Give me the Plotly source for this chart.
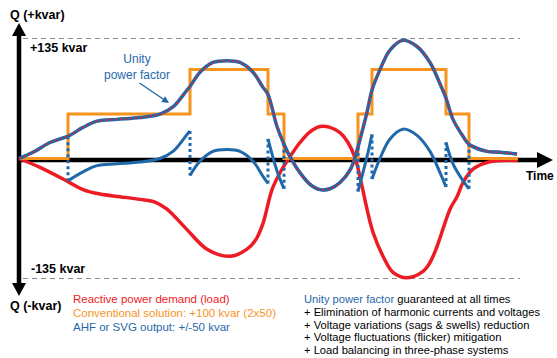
import plotly.graph_objects as go

# ---------------- data (time in arbitrary units, Q in kvar) ----------------
demand_x = [19, 40, 68, 83, 100, 120, 140, 155, 167, 187, 207, 230, 247, 256, 263, 272, 280, 290,
            300, 310, 320, 330, 340, 348, 355, 362, 367, 373, 383, 393, 407, 423, 430, 437, 450,
            457, 463, 473, 487, 503, 518]
demand_q = [0, -10, -26, -35, -40, -43, -46, -49, -57, -80, -102, -110, -102, -91, -73, -35, -16, 2,
            18, 30, 36, 35, 29, 18, 1, -31, -57, -83, -110, -128, -134, -127, -117, -99, -57,
            -43, -27, -12, -4.5, -2.2, -2.2]

comp_x = [19, 33, 50, 68, 83, 97, 117, 140, 160, 173, 187, 190, 200, 213, 227, 240, 253, 263, 268,
          277, 284, 290, 300, 310, 320, 330, 340, 350, 355, 358, 367, 372, 380, 390, 403, 417, 430,
          440, 446, 453, 463, 469, 487, 500, 517]
comp_q = [0, 7, 18, 25, 35, 42, 44, 46, 50, 58, 77, 81, 97, 108, 110, 108, 97, 80, 72,
          36, 16, 2, -16, -29, -35, -34, -27, -13, 1, 13, 52, 77, 100, 122, 133, 126, 108,
          84, 68, 44, 25, 16, 8, 7, 5]

step_x = [19, 68, 190, 268, 284, 358, 372, 446, 469, 518]
step_q = [0, 50, 100, 50, 0, 50, 100, 50, 0, 0]

limit_q = [135, -135]
limit_labels = ["+135 kvar", "-135 kvar"]

legend_left = [("Reactive power demand (load)", "#ED1C24"),
               ("Conventional solution: +100 kvar (2x50)", "#F7941E"),
               ("AHF or SVG output: +/-50 kvar", "#1F69AA")]
benefits = ["<span style='color:#1F69AA'>Unity power factor</span> guaranteed at all times",
            "+ Elimination of harmonic currents and voltages",
            "+ Voltage variations (sags & swells) reduction",
            "+ Voltage fluctuations (flicker) mitigation",
            "+ Load balancing in three-phase systems"]

# ---------------- styles ----------------
RED = "#ED1C24"
ORANGE = "#F7941E"
BLUE = "#1F69AA"
W, H = 557, 358
Y0PX, KPX = 158.5, 0.889          # pixel of Q=0, pixels per kvar
Y_TOP = Y0PX / KPX
Y_BOT = -(H - Y0PX) / KPX
FONT = "Liberation Sans, Arial, sans-serif"


def px(x):
    return x / W


def py(y):
    return 1 - y / H


fig = go.Figure()

# dashed limit lines
for q in limit_q:
    fig.add_trace(go.Scatter(x=[23, 520], y=[q, q], mode="lines",
                             line=dict(color="#8a8a8a", width=1.2, dash="5px,4px"),
                             hoverinfo="skip", showlegend=False))

# reactive power demand (load)
fig.add_trace(go.Scatter(x=demand_x, y=demand_q, mode="lines", line_shape="spline",
                         line=dict(color=RED, width=3.5), hoverinfo="skip", showlegend=False))

# conventional steps
fig.add_trace(go.Scatter(x=step_x, y=step_q, mode="lines", line_shape="hv",
                         line=dict(color=ORANGE, width=3), hoverinfo="skip", showlegend=False))

# AHF / SVG output = compensation - conventional step
comp_at = dict(zip(comp_x, comp_q))
for i in range(len(step_x) - 1):
    a, b, lvl = step_x[i], step_x[i + 1], step_q[i]
    xs = [x for x in comp_x if a <= x <= b]
    ys = [comp_at[x] - lvl for x in xs]
    fig.add_trace(go.Scatter(x=xs, y=ys, mode="lines", line_shape="spline",
                             line=dict(color=BLUE, width=3), hoverinfo="skip", showlegend=False))
for i in range(1, len(step_x) - 1):
    b = step_x[i]
    if b not in comp_at:
        continue
    fig.add_trace(go.Scatter(x=[b, b], y=[comp_at[b] - step_q[i - 1], comp_at[b] - step_q[i]],
                             mode="lines", line=dict(color=BLUE, width=3, dash="3px,3px"),
                             hoverinfo="skip", showlegend=False))

# total compensation (unity power factor): blue with red dots
fig.add_trace(go.Scatter(x=comp_x, y=comp_q, mode="lines", line_shape="spline",
                         line=dict(color=BLUE, width=3.5), hoverinfo="skip", showlegend=False))
fig.add_trace(go.Scatter(x=comp_x, y=comp_q, mode="lines", line_shape="spline",
                         line=dict(color=RED, width=1.7, dash="2px,3px"),
                         hoverinfo="skip", showlegend=False))

# ---------------- axes drawn as arrows ----------------
shapes = [
    dict(type="line", xref="paper", yref="paper", x0=px(19), x1=px(19), y0=py(34), y1=py(285),
         line=dict(color="black", width=4.5), layer="below"),
    dict(type="line", xref="paper", yref="paper", x0=px(17), x1=px(539), y0=py(160), y1=py(160),
         line=dict(color="black", width=4.5), layer="below"),
    dict(type="path", xref="paper", yref="paper",
         path=f"M {px(19)} {py(23)} L {px(12)} {py(36)} L {px(26)} {py(36)} Z",
         fillcolor="black", line=dict(width=0)),
    dict(type="path", xref="paper", yref="paper",
         path=f"M {px(19)} {py(296)} L {px(12)} {py(283)} L {px(26)} {py(283)} Z",
         fillcolor="black", line=dict(width=0)),
    dict(type="path", xref="paper", yref="paper",
         path=f"M {px(553)} {py(160)} L {px(537)} {py(152)} L {px(537)} {py(168)} Z",
         fillcolor="black", line=dict(width=0)),
]

ann = []


def label(text, x, y, size=12.5, color="black", bold=True, xanchor="left"):
    t = f"<b>{text}</b>" if bold else text
    ann.append(dict(text=t, x=px(x), y=py(y), xref="paper", yref="paper", showarrow=False,
                    xanchor=xanchor, yanchor="middle",
                    font=dict(family=FONT, size=size, color=color)))


label("Q (+kvar)", 8, 15)
label("Q (-kvar)", 8, 306)
label("Time", 556, 176, size=12, xanchor="right")
label(limit_labels[0], 28, 48)
label(limit_labels[1], 29, 269)

ann.append(dict(text="Unity<br>power factor", x=px(137), y=py(67), xref="paper", yref="paper",
                showarrow=False, xanchor="center", yanchor="middle",
                font=dict(family=FONT, size=12, color=BLUE)))
ann.append(dict(text="", x=px(169), y=py(103), xref="paper", yref="paper", showarrow=True,
                ax=-31, ay=-21, arrowhead=2, arrowsize=1, arrowwidth=1.4, arrowcolor=BLUE))

for i, (t, c) in enumerate(legend_left):
    label(t, 71, 299 + i * 14, size=11.5, color=c, bold=False)
for i, t in enumerate(benefits):
    label(t, 302, 299 + i * 12.8, size=11.2, color="black", bold=False)

fig.update_layout(
    width=W, height=H, margin=dict(l=0, r=0, t=0, b=0),
    paper_bgcolor="white", plot_bgcolor="white",
    xaxis=dict(range=[0, W], visible=False, fixedrange=True),
    yaxis=dict(range=[Y_BOT, Y_TOP], visible=False, fixedrange=True),
    shapes=shapes, annotations=ann, showlegend=False,
)

fig.write_html("out.html", config={"displayModeBar": False},
               post_script="document.body.style.margin='0px';document.body.style.overflow='hidden';")
